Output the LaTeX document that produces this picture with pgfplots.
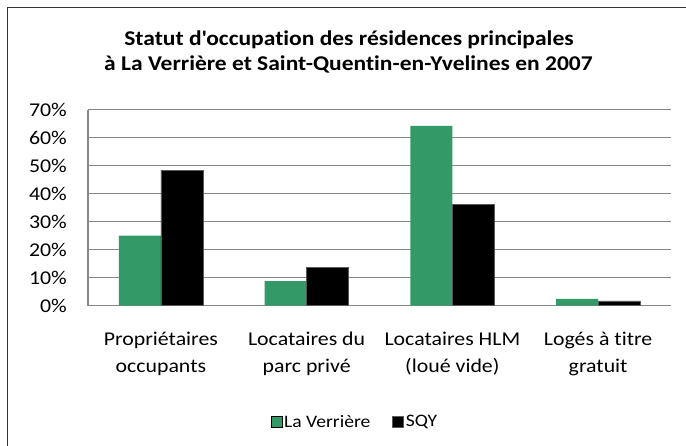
\documentclass[border=0pt]{standalone}
\usepackage{pgfplots}
\pgfplotsset{compat=1.18}
\usepackage{fontspec}
\setmainfont{Carlito}[FakeStretch=1.12, Ligatures={NoCommon,TeXOff}]
\definecolor{vgreen}{HTML}{339966}
\definecolor{gridgray}{HTML}{878787}
\begin{document}
\begin{tikzpicture}[x=1pt,y=1pt]
\path[use as bounding box] (0,0) rectangle (686,446);
\clip (0,0) rectangle (686,446);
\draw[line width=1.4pt, color=black!80] (7.5,-20) -- (7.5,438.5) -- (720,438.5);
\node[anchor=base, font=\fontsize{21}{25}\selectfont\bfseries] at (349,400.3) {Statut d'occupation des résidences principales};
\node[anchor=base, font=\fontsize{21}{25}\selectfont\bfseries] at (348.5,375) {à La Verrière et Saint-Quentin-en-Yvelines en 2007};
\begin{axis}[
  at={(88pt,140.3pt)}, anchor=south west,
  scale only axis, width=583pt, height=196.2pt,
  xmin=-0.5, xmax=3.5, ymin=0, ymax=70,
  axis lines*=left,
  axis line style={draw=gridgray, line width=1.1pt, -},
  ymajorgrids, grid style={draw=gridgray, line width=0.9pt},
  major tick length=0pt,
  ytick={0,10,...,70},
  yticklabels={0\%,10\%,20\%,30\%,40\%,50\%,60\%,70\%},
  xtick={0,1,2,3},
  xticklabels={{Propriétaires\\occupants},{Locataires du\\parc privé},{Locataires HLM\\(loué vide)},{Logés à titre\\gratuit}},
  tick label style={font=\fontsize{19.5}{26.7}\selectfont},
  yticklabel style={anchor=east, inner sep=0pt, xshift=-21pt},
  xticklabel style={align=center, anchor=north, inner sep=0pt, yshift=-26pt},
  ybar, bar width=0.288,
  legend style={at={(0.458,-0.5926)}, anchor=center, draw=none, fill=none,
    legend columns=2, font=\fontsize{17.5}{21}\selectfont,
    nodes={inner xsep=2pt},
    /tikz/every even column/.append style={column sep=20pt}},
  legend image code/.code={\draw[#1] (0pt,-5.5pt) rectangle (11pt,5.5pt);},
]
\addplot[fill=vgreen, draw=none, bar shift=-0.144] coordinates {(0,25.0) (1,8.8) (2,64.2) (3,2.4)};
\addplot[fill=black, draw=gray!70!black, line width=0.6pt, bar shift=0.144] coordinates {(0,48.4) (1,13.8) (2,36.2) (3,1.7)};
\legend{La Verrière, SQY}
\end{axis}
\end{tikzpicture}
\end{document}
